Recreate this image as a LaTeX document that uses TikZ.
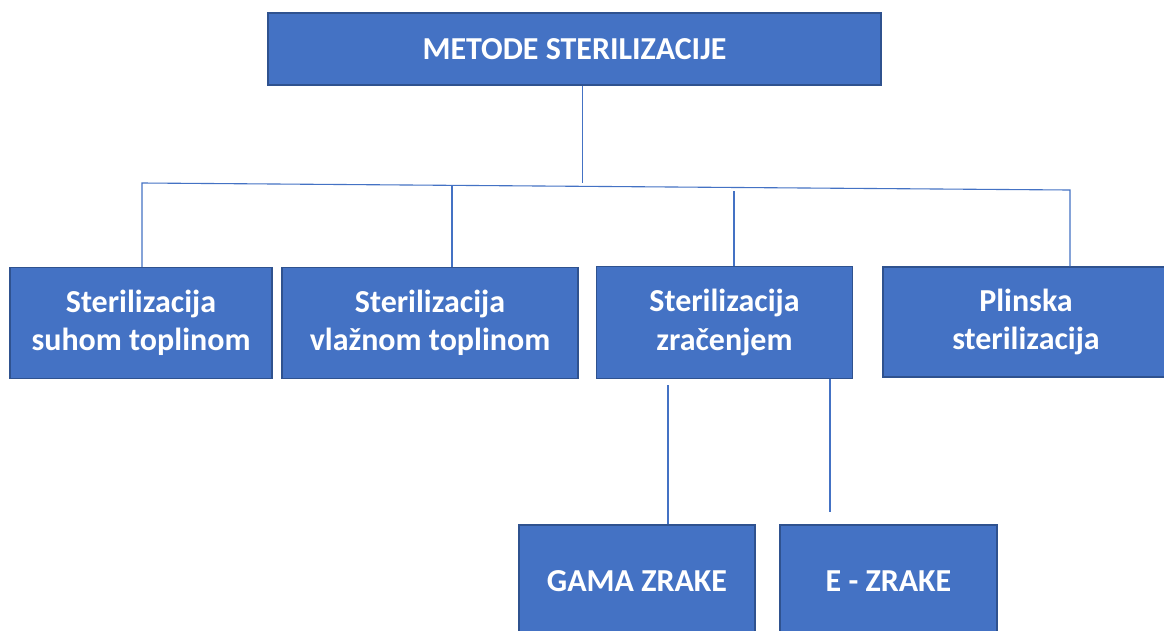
\documentclass[tikz,border=0pt]{standalone}
\usepackage{fontspec}
\setmainfont{Carlito}
\definecolor{boxfill}{HTML}{4472C4}
\definecolor{boxedge}{HTML}{2F528F}
\definecolor{linecol}{HTML}{4472C4}
\tikzset{
  box/.style={draw=boxedge, fill=boxfill, line width=1.5pt, text=white,
    font=\fontsize{32}{38.5}\selectfont\bfseries, align=center, inner sep=0pt},
  conn/.style={draw=linecol, line width=1.1pt}
}
\begin{document}
\begin{tikzpicture}[x=1pt,y=-1pt]
\useasboundingbox (0,0) rectangle (1164,630);
\fill[white] (0,0) rectangle (1164,630);
\clip (0,0) rectangle (1164,630);
% boxes
\node[box, minimum width=613pt, minimum height=72pt] (top) at (574.5,49) {\raisebox{-2pt}{METODE STERILIZACIJE}};
\node[box, minimum width=262pt, minimum height=111pt] (suhom) at (141,323) {Sterilizacija\\suhom toplinom};
\node[box, minimum width=296pt, minimum height=111pt] (vlaz) at (430,323) {Sterilizacija\\vlažnom toplinom};
\node[box, minimum width=256pt, minimum height=112pt] (zrac) at (724.5,322.5) {Sterilizacija\\zračenjem};
\node[box, minimum width=286pt, minimum height=110pt] (plin) at (1026,322) {Plinska\\sterilizacija};
\node[box, minimum width=236pt, minimum height=112pt] (gama) at (637,581) {GAMA ZRAKE};
\node[box, minimum width=217pt, minimum height=112pt] (ezr) at (888.5,581) {E - ZRAKE};
% junction coordinates
\coordinate (jtop) at (582.5,183);
\coordinate (hl) at (142,183);
\coordinate (hr) at (1070,190);
\coordinate (jv) at (452,186);
\coordinate (jz) at (734,191);
\coordinate (gtop) at (668,385);
\coordinate (eend) at (830,512);
% connectors
\draw[conn] (top.south -| jtop) -- (jtop);
\draw[conn] (suhom.north -| hl) -- (hl) -- (hr) -- (hr |- plin.north);
\draw[conn] (jv) -- (jv |- vlaz.north);
\draw[conn] (jz) -- (jz |- zrac.north);
\draw[conn] (gtop) -- (gtop |- gama.north);
\draw[conn] (eend |- zrac.south) -- (eend);
\end{tikzpicture}
\end{document}
